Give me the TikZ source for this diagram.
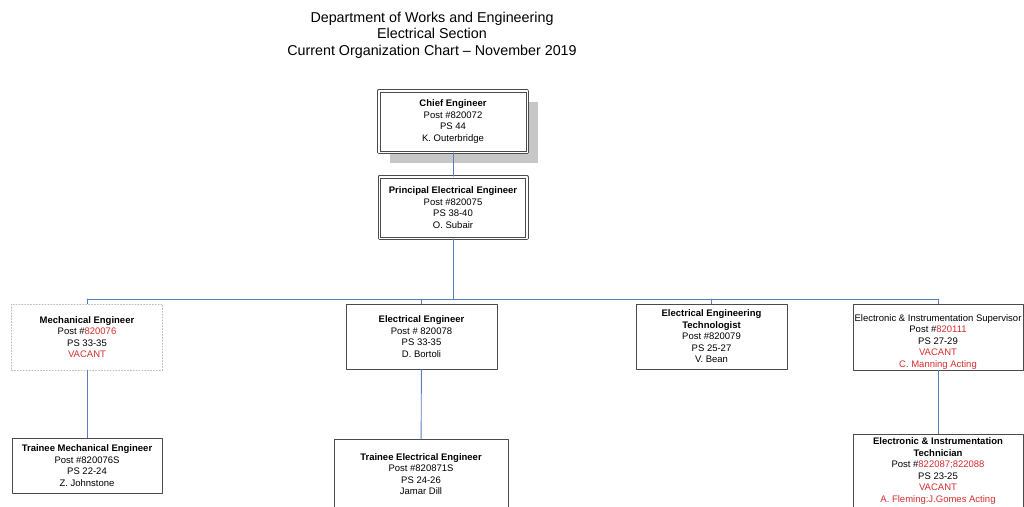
\documentclass[tikz,border=0pt]{standalone}
\usepackage{fontspec}
\setmainfont{Liberation Sans}
\usetikzlibrary{shadows}
\definecolor{postred}{RGB}{215,45,45}
\definecolor{linkblue}{RGB}{90,125,190}
\definecolor{boxgray}{RGB}{75,75,75}

\begin{document}
\begin{tikzpicture}[line join=round, line cap=round, x=1pt, y=-1pt]
\tikzset{every node/.style={font=\fontsize{9.5}{11.5}\selectfont, align=center, inner sep=0pt},
  box/.style={draw=boxgray, line width=0.8pt, fill=white},
  dbox/.style={box, line width=1pt, double=white, double distance=1.5pt},
  vbox/.style={draw=gray!55, dotted, line width=0.9pt, fill=white},
  link/.style={draw=linkblue, line width=0.9pt}}
\useasboundingbox (0,0) rectangle (1024,506);
\clip (0,0) rectangle (1024,506);
% heading
\node[font=\fontsize{14.3}{16.5}\selectfont] (title) at (432,35) {Department of Works and Engineering\\
  Electrical Section\\ Current Organization Chart -- November 2019};
% top of the section
\node[dbox, minimum width=148.5, minimum height=61.5,
  drop shadow={shadow xshift=11pt, shadow yshift=-11pt, fill=black!22, opacity=1}]
  (chief) at (453,121.5) {\textbf{Chief Engineer}\\ Post \#820072\\ PS 44\\ K. Outerbridge};
\node[dbox, minimum width=147.5, minimum height=61.5] (principal) at (453,207.5)
  {\textbf{Principal Electrical Engineer}\\ Post \#820075\\ PS 38-40\\ O. Subair};
% second row
\node[vbox, minimum width=151, minimum height=66] (mech) at (87,337)
  {\textbf{Mechanical Engineer}\\ Post \#\textcolor{postred}{820076}\\ PS 33-35\\ \textcolor{postred}{VACANT}};
\node[box, minimum width=151, minimum height=65] (elec) at (421.5,336.5)
  {\textbf{Electrical Engineer}\\ Post \# 820078\\ PS 33-35\\ D. Bortoli};
\node[box, minimum width=151, minimum height=65] (tech) at (711.5,336.5)
  {\textbf{Electrical Engineering}\\ \textbf{Technologist}\\ Post \#820079\\ PS 25-27\\ V. Bean};
\node[box, minimum width=170, minimum height=66] (sup) at (938,337) {};
\node (suptext) at (938,342) {Electronic \& Instrumentation Supervisor\\ Post \#\textcolor{postred}{820111}\\
  PS 27-29\\ \textcolor{postred}{VACANT}\\ \textcolor{postred}{C. Manning Acting}};
% third row
\node[box, minimum width=150, minimum height=55] (tmech) at (87,465.5)
  {\textbf{Trainee Mechanical Engineer}\\ Post \#820076S\\ PS 22-24\\ Z. Johnstone};
\node[box, minimum width=174, minimum height=70] (telec) at (421,474)
  {\textbf{Trainee Electrical Engineer}\\ Post \#820871S\\ PS 24-26\\ Jamar Dill};
\node[box, minimum width=170, minimum height=74] (itech) at (938,471)
  {\textbf{Electronic \& Instrumentation}\\ \textbf{Technician}\\ Post \#\textcolor{postred}{822087;822088}\\
  PS 23-25\\ \textcolor{postred}{VACANT}\\ \textcolor{postred}{A. Fleming:J.Gomes Acting}};
% connectors
\coordinate (bus) at (453,299);
\draw[link] (chief) -- (principal);
\draw[link] (principal) -- (bus);
\draw[link] (mech.north |- bus) -- (sup.north |- bus);
\foreach \n in {mech,elec,tech,sup}{\draw[link] (\n.north |- bus) -- (\n.north);}
\draw[link] (mech) -- (tmech);
\draw[link] (elec) -- (telec);
\draw[link] (sup) -- (itech);
\end{tikzpicture}
\end{document}
